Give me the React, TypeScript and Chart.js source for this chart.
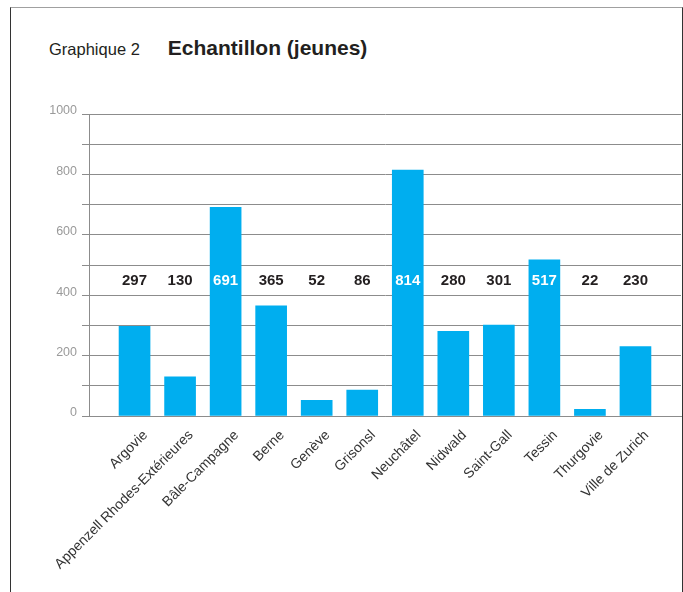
import { useEffect, useRef } from 'react';
import { Chart, registerables } from 'chart.js';

Chart.register(...registerables);

// Sample size per canton (young respondents)
const cantons = [
  'Argovie',
  'Appenzell Rhodes-Extérieures',
  'Bâle-Campagne',
  'Berne',
  'Genève',
  'Grisonsl',
  'Neuchâtel',
  'Nidwald',
  'Saint-Gall',
  'Tessin',
  'Thurgovie',
  'Ville de Zurich',
];
const samples = [297, 130, 691, 365, 52, 86, 814, 280, 301, 517, 22, 230];
const yLabelledTicks = [0, 200, 400, 600, 800, 1000];
const valueRowLevel = 448; // y value on which the number row sits

const BAR = '#00aeef';
const GRID = '#8c8c8c';
const FONT = '"Liberation Sans", Arial, Helvetica, sans-serif';

// Empty slots at both ends so bars sit on the inner category lines
const labels = ['', ...cantons, ''];
const values = [null, ...samples, null];

const valueRow = {
  id: 'valueRow',
  afterDatasetsDraw(chart: Chart) {
    const { ctx } = chart;
    const meta = chart.getDatasetMeta(0);
    const y = chart.scales.y.getPixelForValue(valueRowLevel);
    ctx.save();
    ctx.font = `bold 15px ${FONT}`;
    ctx.textAlign = 'center';
    ctx.textBaseline = 'middle';
    meta.data.forEach((el: any, i: number) => {
      const v = values[i];
      if (v == null) return;
      ctx.fillStyle = v > valueRowLevel ? '#ffffff' : '#231f20';
      ctx.fillText(String(v), el.x, y);
    });
    ctx.restore();
  },
};

export default function App() {
  const canvasRef = useRef<HTMLCanvasElement>(null);

  useEffect(() => {
    const chart = new Chart(canvasRef.current!, {
      type: 'bar',
      data: {
        labels,
        datasets: [
          {
            data: values,
            backgroundColor: BAR,
            borderWidth: 0,
            barThickness: 31,
          },
        ],
      },
      plugins: [valueRow],
      options: {
        animation: false,
        responsive: false,
        maintainAspectRatio: false,
        layout: { padding: { top: 114, right: 2, left: 0, bottom: 0 } },
        plugins: {
          legend: { display: false },
          tooltip: { enabled: false },
          title: { display: false },
        },
        scales: {
          x: {
            offset: false,
            grid: { display: false },
            border: { display: true, color: GRID, width: 1 },
            ticks: {
              autoSkip: false,
              minRotation: 45,
              maxRotation: 45,
              color: '#333333',
              font: { family: FONT, size: 14 },
              padding: 3,
              labelOffset: 11,
            },
            afterFit: (scale: any) => {
              scale.height = 176;
              scale.paddingLeft = 0;
              scale.paddingRight = 0;
            },
          },
          y: {
            min: 0,
            max: 1000,
            border: { display: true, color: GRID, width: 1 },
            grid: {
              color: GRID,
              lineWidth: 1,
              tickLength: 7,
              drawTicks: true,
            },
            ticks: {
              stepSize: 100,
              color: '#9a9a9a',
              padding: 5,
              labelOffset: -3,
              font: { family: FONT, size: 12.5 },
              callback: (v: any) => (yLabelledTicks.includes(Number(v)) ? String(v) : ''),
            },
            afterFit: (scale: any) => {
              scale.width = 89;
            },
          },
        },
      },
    });
    return () => chart.destroy();
  }, []);

  return (
    <div
      style={{
        position: 'absolute',
        left: 0,
        top: 0,
        width: 683,
        height: 592,
        background: '#ffffff',
        overflow: 'hidden',
        fontFamily: FONT,
      }}
    >
      <div
        style={{
          position: 'absolute',
          left: 10,
          top: 7,
          width: 671,
          height: 600,
          borderTop: '1px solid #a0a0a0',
          borderLeft: '1.5px solid #333333',
          borderRight: '1.5px solid #333333',
        }}
      />
      <div
        style={{
          position: 'absolute',
          left: 49,
          top: 36,
          whiteSpace: 'nowrap',
          color: '#231f20',
          lineHeight: '24px',
        }}
      >
        <span style={{ fontSize: 16.5 }}>Graphique 2</span>
        <span style={{ fontSize: 21, fontWeight: 'bold', marginLeft: 28 }}>
          Echantillon (jeunes)
        </span>
      </div>
      <canvas
        ref={canvasRef}
        width={683}
        height={592}
        style={{ position: 'absolute', left: 0, top: 0, width: 683, height: 592 }}
      />
    </div>
  );
}
